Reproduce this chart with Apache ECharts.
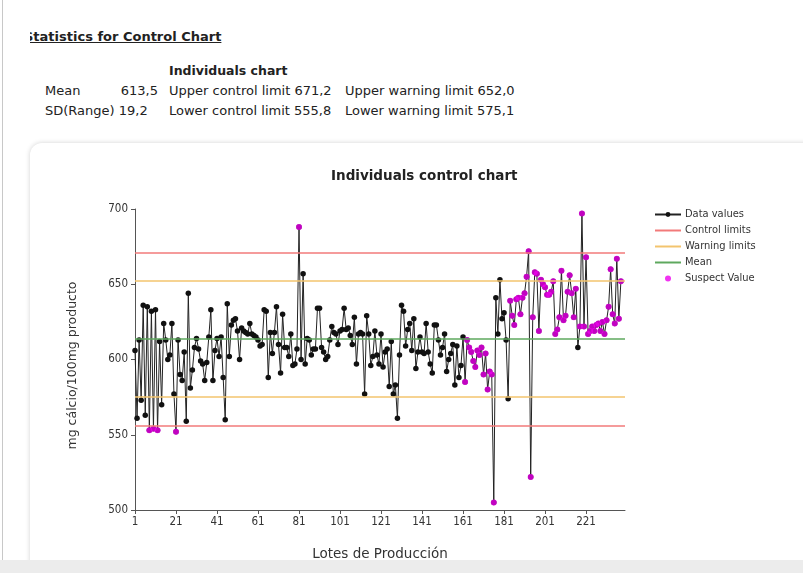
<!DOCTYPE html>
<html>
<head>
<meta charset="utf-8">
<script src="https://cdn.jsdelivr.net/npm/echarts@6/dist/echarts.min.js"></script>
<style>
  html, body { margin: 0; padding: 0; }
  body { width: 803px; height: 573px; background: #fff; overflow: hidden; position: relative;
         font-family: "DejaVu Sans", sans-serif; color: #222; }
  .edge { position: absolute; left: 2px; top: 0; width: 1px; height: 573px; background: #c8c8c8; }
  .t { position: absolute; white-space: nowrap; font-size: 13px; line-height: 15px; }
  .r { text-align: right; }
  .b { font-weight: bold; }
  .clip { position: absolute; left: 30px; top: 29px; width: 260px; height: 18px; overflow: hidden; }
  .clip span { position: absolute; left: -6px; top: 0; font-weight: bold; font-size: 13px;
               text-decoration: underline; white-space: nowrap; }
  .panel { position: absolute; left: 30px; top: 143px; width: 800px; height: 440px; background: #fff;
           border-radius: 12px; box-shadow: 0 0 5px rgba(0,0,0,0.18); }
  .foot { position: absolute; left: 0; top: 560px; width: 803px; height: 13px; background: #ececec; z-index: 2; }
  #chart { position: absolute; left: 0; top: 0; width: 803px; height: 573px; z-index: 1; }
</style>
</head>
<body>
<div class="edge"></div>
<div class="clip"><span>Statistics for Control Chart</span></div>
<div class="t b" style="left:169px;top:63px;font-size:12.5px;">Individuals chart</div>
<div class="t" style="left:45px;top:83px;">Mean</div>
<div class="t r" style="left:98px;width:60px;top:83px;">613,5</div>
<div class="t" style="left:169px;top:83px;">Upper control limit 671,2</div>
<div class="t" style="left:345px;top:83px;">Upper warning limit 652,0</div>
<div class="t" style="left:45px;top:103px;">SD(Range) 19,2</div>
<div class="t" style="left:169px;top:103px;">Lower control limit 555,8</div>
<div class="t" style="left:345px;top:103px;">Lower warning limit 575,1</div>
<div class="panel"></div>
<div class="foot"></div>
<div id="chart"></div>
<script>
// Calcium content per production lot (mg / 100 mg product), lots 1..238
const calcium = [
  606, 561, 613, 573, 636, 563, 635, 553, 632, 554, 633, 553, 612, 570, 624, 613, 600, 603, 624, 577,
  552, 613, 590, 586, 605, 559, 644, 581, 593, 608, 614, 607, 599, 597, 586, 598, 615, 633, 586, 606,
  614, 602, 615, 588, 560, 637, 602, 623, 626, 627, 619, 600, 621, 619, 618, 617, 624, 617, 616, 615,
  613, 609, 610, 633, 632, 588, 618, 604, 618, 635, 610, 591, 630, 608, 608, 602, 617, 596, 597, 607,
  688, 600, 657, 597, 614, 613, 603, 607, 607, 634, 634, 608, 605, 600, 602, 613, 622, 618, 617, 610,
  619, 620, 634, 620, 621, 616, 610, 628, 597, 617, 618, 617, 577, 629, 617, 596, 602, 619, 603, 597,
  617, 595, 605, 607, 582, 612, 577, 583, 561, 603, 636, 632, 609, 620, 624, 606, 627, 594, 605, 615,
  605, 604, 624, 605, 597, 591, 623, 623, 613, 603, 608, 617, 592, 600, 604, 610, 583, 609, 588, 596,
  615, 585, 613, 608, 605, 599, 595, 606, 603, 608, 590, 604, 580, 592, 590, 505, 641, 617, 653, 627,
  631, 613, 574, 639, 629, 623, 640, 641, 630, 641, 644, 655, 672, 522, 628, 658, 657, 619, 653, 650,
  648, 643, 643, 645, 652, 617, 620, 628, 659, 626, 629, 645, 656, 644, 628, 647, 608, 622, 697, 622,
  668, 617, 619, 622, 619, 623, 624, 619, 625, 617, 626, 635, 660, 630, 624, 667, 627, 652
];

// Lots flagged by the control rules
const suspectLots = [
  8, 10, 12, 21, 81,
  162, 163, 164, 165, 166, 167, 168, 169, 170, 171, 172, 173, 174, 175, 176,
  184, 185, 186, 187, 188, 189, 190, 191, 192, 193, 194, 195, 196, 197, 198, 199, 200,
  201, 202, 203, 204, 205, 206, 207, 208, 209, 210, 211, 212, 213, 214, 215, 216,
  218, 219, 220, 221, 222, 223, 224, 225, 226, 227, 228, 229, 230, 231, 232, 233, 234,
  235, 236, 237, 238
];

const controlLimits = [671.2, 555.8];
const warningLimits = [652.0, 575.1];
const meanLine = [613.5];

const yTicks = [500, 550, 600, 650, 700];
const lastLot = 240;

const lots = [];
for (let i = 1; i <= lastLot; i++) lots.push(String(i));

const suspectPoints = suspectLots.map(n => [n - 1, calcium[n - 1]]);

const FONT = '"DejaVu Sans", sans-serif';
const NARROW = '"DejaVu Sans Condensed", "DejaVu Sans", sans-serif';

function limitSeries(name, color, values) {
  return {
    name: name, type: 'line', data: [], symbol: 'none', z: 1,
    itemStyle: { color: color }, lineStyle: { color: color, width: 1.5 },
    markLine: {
      silent: true, symbol: ['none', 'none'], label: { show: false },
      lineStyle: { color: color, width: 1.5, type: 'solid' },
      data: values.map(v => ({ yAxis: v }))
    }
  };
}

const plainLine = name => ({ name: name, itemStyle: { opacity: 0 } });

const chart = echarts.init(document.getElementById('chart'), null, { renderer: 'canvas' });
chart.setOption({
  animation: false,
  backgroundColor: 'transparent',
  textStyle: { fontFamily: FONT },
  title: {
    text: 'Individuals control chart', left: 326, top: 164,
    textStyle: { fontSize: 13.5, fontWeight: 'bold', color: '#222', fontFamily: FONT }
  },
  legend: {
    orient: 'vertical', left: 649, top: 204, itemWidth: 26, itemHeight: 6, itemGap: 5,
    textStyle: { fontSize: 11, color: '#333', fontFamily: NARROW, padding: [0, 0, 0, -1] },
    data: ['Data values', plainLine('Control limits'), plainLine('Warning limits'),
           plainLine('Mean'), 'Suspect Value']
  },
  grid: { left: 135, top: 209, width: 490, height: 301, containLabel: false },
  xAxis: {
    type: 'category', data: lots, boundaryGap: false,
    name: 'Lotes de Producción', nameLocation: 'middle', nameGap: 37,
    nameTextStyle: { fontSize: 13.5, color: '#333', fontFamily: FONT },
    axisLine: { lineStyle: { color: '#555', width: 1 } },
    axisTick: { interval: 19, length: 4, lineStyle: { color: '#555' } },
    axisLabel: { interval: 19, fontSize: 11.5, color: '#333', margin: 6, fontFamily: NARROW },
    splitLine: { show: false }
  },
  yAxis: {
    type: 'value', min: yTicks[0], max: yTicks[yTicks.length - 1], interval: 50,
    name: 'mg cálcio/100mg producto', nameLocation: 'middle', nameGap: 56, nameRotate: 90,
    nameTextStyle: { fontSize: 12.5, color: '#333', fontFamily: FONT, padding: [0, 0, 0, -12] },
    axisLine: { show: true, lineStyle: { color: '#555', width: 1 } },
    axisTick: { show: true, length: 4, lineStyle: { color: '#555' } },
    axisLabel: { fontSize: 11.5, color: '#333', margin: 7, fontFamily: NARROW },
    splitLine: { show: false }
  },
  series: [
    {
      name: 'Data values', type: 'line', data: calcium, z: 3,
      symbol: 'circle', symbolSize: 5.5, showAllSymbol: true,
      itemStyle: { color: '#111' }, lineStyle: { color: '#222', width: 1 }
    },
    limitSeries('Control limits', '#f27a7a', controlLimits),
    limitSeries('Warning limits', '#f3c46e', warningLimits),
    limitSeries('Mean', '#5ea85e', meanLine),
    {
      name: 'Suspect Value', type: 'scatter', data: suspectPoints, z: 4,
      symbol: 'circle', symbolSize: 6, itemStyle: { color: '#ee00ee' }
    }
  ]
});
</script>
</body>
</html>
